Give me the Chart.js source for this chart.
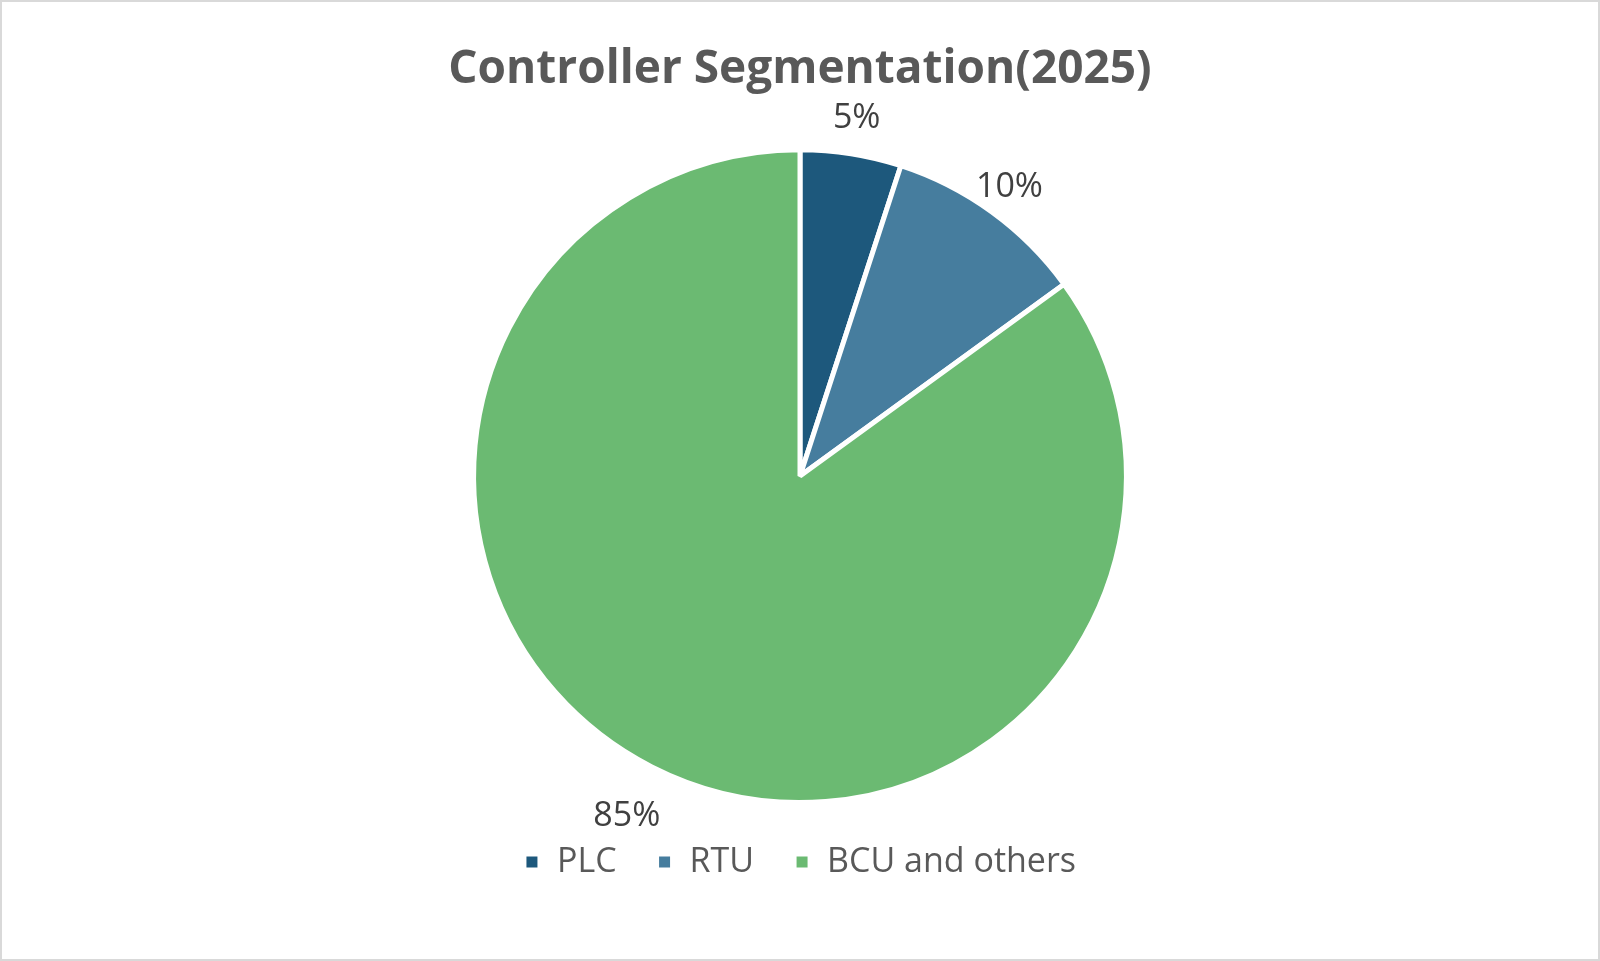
<!DOCTYPE html>
<html><head><meta charset="utf-8">
<script src="https://cdn.jsdelivr.net/npm/chart.js@4"></script>
<style>html,body{margin:0;padding:0;background:#fff}
#w{position:absolute;left:0;top:0;width:1596px;height:957px;border:2px solid #d9d9d9}
canvas{display:block}</style></head>
<body><div id="w"><canvas id="c"></canvas></div>
<script>
const categories=["PLC","RTU","BCU and others"];
const values=[5,10,85];
const colors=["#1d587c","#467d9e","#6bba72"];
const labelPlugin={id:'lbl',afterDatasetsDraw(chart){
  const ctx=chart.ctx;const meta=chart.getDatasetMeta(0);
  ctx.save();ctx.font='34px "Open Sans", "Noto Sans", sans-serif';ctx.fillStyle='#404040';
  ctx.textAlign='center';ctx.textBaseline='middle';
  const extra=[36,30,55];
  meta.data.forEach((a,i)=>{const m=(a.startAngle+a.endAngle)/2;const r=a.outerRadius+extra[i];
    ctx.fillText(values[i]+'%',a.x+Math.cos(m)*r,a.y+Math.sin(m)*r);});
  ctx.restore();}};
new Chart(document.getElementById('c'),{type:'pie',
 data:{labels:categories,datasets:[{data:values,backgroundColor:colors,borderColor:'#fff',borderWidth:5}]},
 options:{responsive:true,maintainAspectRatio:false,animation:false,
  layout:{padding:{top:0,bottom:20,left:0,right:0}},
  plugins:{tooltip:{enabled:false},
   title:{display:true,text:'Controller Segmentation(2025)',color:'#595959',
     font:{family:'"Open Sans", "Noto Sans", sans-serif',size:46,weight:'bold'},padding:{top:40,bottom:50}},
   legend:{position:'bottom',labels:{color:'#595959',font:{family:'"Open Sans", "Noto Sans", sans-serif',size:34},
     usePointStyle:true,pointStyle:'rect',boxWidth:16,boxHeight:16,padding:40},
     }}},
 plugins:[labelPlugin,{id:'legpad',beforeInit(c){const f=c.legend.fit;c.legend.fit=function(){f.bind(c.legend)();this.height+=50;}}}]});
</script></body></html>
